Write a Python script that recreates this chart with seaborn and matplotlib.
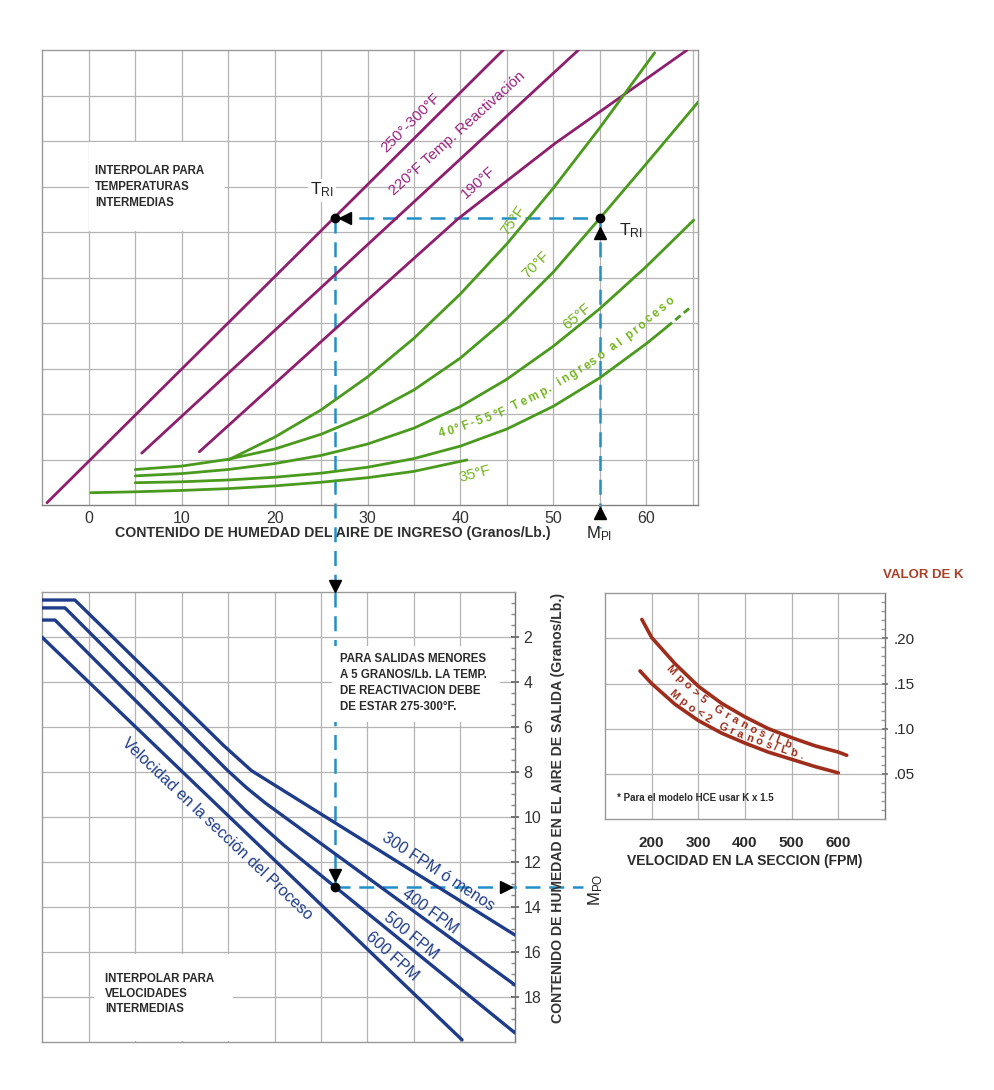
import matplotlib
matplotlib.use("Agg")
import numpy as np
import matplotlib.pyplot as plt
from matplotlib import font_manager
from matplotlib.patches import Rectangle
from matplotlib.textpath import TextToPath
import seaborn as sns

# ---------------- DATA ----------------
# Upper chart: x = inlet moisture (gr/lb), y = chart position (0-10)
reac_250_300_x = [-4.5, 44.6]
reac_250_300_y = [0.05, 10.0]
reac_220_x = [5.7, 52.7]
reac_220_y = [1.14, 10.0]
reac_190_x = [11.9, 26.25, 39.8, 50.2, 64.4]
reac_190_y = [1.17, 3.82, 6.3, 7.95, 10.0]

proc_75_x = [15, 20, 25, 30, 35, 40, 45, 50, 55, 60.9]
proc_75_y = [0.99, 1.49, 2.09, 2.815, 3.665, 4.64, 5.74, 6.965, 8.29, 9.94]
proc_70_x = [5, 10, 15, 20, 25, 30, 35, 40, 45, 50, 55, 60, 65.6]
proc_70_y = [0.78, 0.855, 1.005, 1.23, 1.555, 1.98, 2.53, 3.23, 4.1, 5.12, 6.3, 7.5, 8.86]
proc_65_x = [5, 10, 15, 20, 25, 30, 35, 40, 45, 50, 55, 60, 65.1]
proc_65_y = [0.64, 0.69, 0.78, 0.91, 1.09, 1.34, 1.69, 2.165, 2.765, 3.49, 4.315, 5.24, 6.26]
proc_40_55_x = [5, 10, 15, 20, 25, 30, 35, 40, 45, 50, 55, 60, 62.2]
proc_40_55_y = [0.49, 0.51, 0.55, 0.61, 0.7, 0.83, 1.02, 1.295, 1.67, 2.17, 2.795, 3.545, 3.91]
proc_40_55_ext_x = [62.2, 64.7]
proc_40_55_ext_y = [3.91, 4.335]
proc_35_x = [0.2, 5, 10, 15, 20, 25, 30, 35, 40.7]
proc_35_y = [0.27, 0.29, 0.32, 0.36, 0.42, 0.5, 0.6, 0.74, 0.99]
top_xticks = [0, 10, 20, 30, 40, 50, 60]

# Lower chart: outlet moisture (gr/lb) on the same x scale
vel_300_x = [-5.07, -1.5, 14.5, 17.5, 45.88]
vel_300_y = [0.37, 0.37, 6.83, 7.95, 15.26]
vel_400_x = [-5.07, -2.56, 14.9, 17.0, 19.0, 45.88]
vel_400_y = [0.72, 0.72, 7.93, 8.72, 9.39, 17.48]
vel_500_x = [-5.07, -3.64, 16.8, 18.85, 21.0, 45.88]
vel_500_y = [1.26, 1.26, 9.70, 10.48, 11.27, 19.61]
vel_600_x = [-5.07, 40.18]
vel_600_y = [2.01, 19.92]
bot_yticks = [2, 4, 6, 8, 10, 12, 14, 16, 18]

# Example path
m_pi = 55.0
t_ri = 6.3
x_tri = 26.5
m_po = 13.11

# K chart
k_fpm_hi = [179, 200, 250, 300, 350, 400, 450, 500, 550, 600, 618]
k_val_hi = [0.221, 0.201, 0.172, 0.147, 0.128, 0.113, 0.100, 0.090, 0.081, 0.074, 0.0705]
k_fpm_lo = [175, 200, 250, 300, 350, 400, 450, 500, 550, 600]
k_val_lo = [0.164, 0.150, 0.127, 0.109, 0.095, 0.084, 0.074, 0.066, 0.058, 0.051]
k_xticks = [200, 300, 400, 500, 600]
k_yticks = [0.05, 0.10, 0.15, 0.20]
k_ylabels = [".05", ".10", ".15", ".20"]

# ---------------- STYLE ----------------
sns.set_theme(style="white")
plt.rcParams["font.family"] = ["Liberation Sans", "DejaVu Sans"]
plt.rcParams["mathtext.default"] = "regular"

PURPLE = "#8e1f6e"
PURPLE_T = "#9a2480"
GREEN = "#4a9a1e"
GREEN_T = "#74b520"
BLUE = "#1f3c8a"
CYAN = "#2290c8"
RED = "#9e2d1b"
RED_T = "#a8402a"
GRID = "#b4b4b4"
DARK = "#333333"
SPINE = "#9a9a9a"

W, H = 994, 1090
def rect(l, t, r, b):
    return [l / W, 1 - b / H, (r - l) / W, (b - t) / H]

fig = plt.figure(figsize=(9.94, 10.9), dpi=100)
fig.patch.set_facecolor("white")
ax_top = fig.add_axes(rect(41.7, 50, 698.3, 505))
ax_bot = fig.add_axes(rect(41.7, 591.7, 515, 1041.7))
ax_k = fig.add_axes(rect(605, 593.3, 885, 818.9))

for ax in (ax_top, ax_bot, ax_k):
    ax.set_facecolor("white")
    ax.set_axisbelow(True)
    for s in ax.spines.values():
        s.set_color(SPINE)
        s.set_linewidth(1.0)

def draw(ax, x, y, color, lw, **kw):
    sns.lineplot(x=x, y=y, ax=ax, color=color, lw=lw, sort=False,
                 estimator=None, zorder=3, **kw)

_t2p = TextToPath()
def text_along(ax, xs, ys, text, x_start, base_off, fontsize, spacing, color,
               weight="normal"):
    """Place characters one by one following a curve (display-space)."""
    pts = ax.transData.transform(np.column_stack([xs, ys]))
    seg = np.diff(pts, axis=0)
    cum = np.concatenate([[0.0], np.cumsum(np.hypot(seg[:, 0], seg[:, 1]))])
    s = np.interp(ax.transData.transform((x_start, ys[0]))[0], pts[:, 0], cum)
    prop = font_manager.FontProperties(family=["Liberation Sans", "DejaVu Sans"],
                                       size=fontsize, weight=weight)
    inv = ax.transData.inverted()
    px_per_pt = fig.dpi / 72.0
    def at(v):
        return np.array([np.interp(v, cum, pts[:, 0]), np.interp(v, cum, pts[:, 1])])
    for ch in text:
        if ch == " ":
            w = 0.28 * fontsize * px_per_pt
        else:
            w = _t2p.get_text_width_height_descent(ch, prop, ismath=False)[0] * px_per_pt
        c = s + w / 2
        t = at(c + 4) - at(c - 4)
        t = t / np.hypot(*t)
        n = np.array([-t[1], t[0]])
        q = at(c) + n * base_off
        ang = np.degrees(np.arctan2(t[1], t[0]))
        if ch != " ":
            xd, yd = inv.transform(q)
            ax.text(xd, yd, ch, rotation=ang, rotation_mode="anchor", ha="center",
                    va="baseline", fontproperties=prop, color=color, zorder=4)
        s += w + spacing

# ================= TOP CHART =================
ax_top.set_xlim(-5.07, 65.6)
ax_top.set_ylim(0, 10)
ax_top.set_xticks(top_xticks)
ax_top.set_xticklabels([str(v) for v in top_xticks])
ax_top.set_xticks(np.arange(5, 66, 10), minor=True)
ax_top.set_yticks(np.arange(1, 10, 1))
ax_top.tick_params(axis="y", left=False, labelleft=False)
ax_top.tick_params(axis="x", which="both", direction="inout", length=5,
                   color="#777777", labelsize=11.5, labelcolor=DARK, pad=2)
ax_top.grid(True, which="both", color=GRID, lw=0.9)
ax_top.spines["bottom"].set_color("#808080")
ax_top.set_xlabel("")
ax_top.set_ylabel("")

for xs, ys in [(reac_250_300_x, reac_250_300_y), (reac_220_x, reac_220_y),
               (reac_190_x, reac_190_y)]:
    draw(ax_top, xs, ys, PURPLE, 2.0)
for xs, ys in [(proc_75_x, proc_75_y), (proc_70_x, proc_70_y),
               (proc_65_x, proc_65_y), (proc_40_55_x, proc_40_55_y),
               (proc_35_x, proc_35_y)]:
    draw(ax_top, xs, ys, GREEN, 2.0)
draw(ax_top, proc_40_55_ext_x, proc_40_55_ext_y, GREEN, 2.0, linestyle=(0, (2.5, 1.5)))

# white note box
ax_top.add_patch(Rectangle((0.05, 6.03), 14.6, 1.94, facecolor="white",
                           edgecolor="none", zorder=1.5))
ax_top.text(0.7, 7.47, "INTERPOLAR PARA\nTEMPERATURAS\nINTERMEDIAS", fontsize=8.3,
            fontweight="bold", color="#2a2a2a", ha="left", va="top",
            linespacing=1.45, zorder=4)

# curve labels
lab = dict(ha="center", va="center", zorder=4, rotation_mode="anchor")
ax_top.text(34.7, 8.4, "250°-300°F", color=PURPLE_T, fontsize=11, rotation=45, **lab)
ax_top.text(39.7, 8.17, "220°F Temp. Reactivación", color=PURPLE_T, fontsize=11, rotation=42, **lab)
ax_top.text(41.9, 7.08, "190°F", color=PURPLE_T, fontsize=11, rotation=42, **lab)
ax_top.text(45.7, 6.26, "75°F", color=GREEN_T, fontsize=11, rotation=55, **lab)
ax_top.text(48.1, 5.27, "70°F", color=GREEN_T, fontsize=11, rotation=45, **lab)
ax_top.text(52.6, 4.14, "65°F", color=GREEN_T, fontsize=11, rotation=40, **lab)
ax_top.text(41.6, 0.68, "35°F", color=GREEN_T, fontsize=11, rotation=15, **lab)
text_along(ax_top, proc_40_55_x + proc_40_55_ext_x[1:], proc_40_55_y + proc_40_55_ext_y[1:],
           "40°F-55°F Temp. ingreso al proceso", 38.2, 14, 8.5, 2.4, GREEN_T,
           weight="bold")

# example path (top)
dash = dict(color=CYAN, lw=1.8, linestyle=(0, (6, 3.5)), zorder=2)
ax_top.plot([x_tri, m_pi], [t_ri, t_ri], **dash)
ax_top.plot([m_pi, m_pi], [t_ri, -0.5], clip_on=False, **dash)
y_join = ax_top.transData.inverted().transform(
    ax_bot.transAxes.transform((0, 1)))[1]
ax_top.plot([x_tri, x_tri], [t_ri, y_join], clip_on=False, **dash)
ax_top.plot([x_tri, m_pi], [t_ri, t_ri], "o", color="black", ms=6, zorder=5)
ax_top.plot([x_tri + 1.1], [t_ri], marker="<", color="black", ms=8, zorder=5)
ax_top.plot([m_pi], [t_ri - 0.33], marker="^", color="black", ms=8, zorder=5)
ax_top.plot([m_pi], [-0.17], marker="^", color="black", ms=9, zorder=5, clip_on=False)

ax_top.text(25.1, 6.92, "T$_{RI}$", fontsize=12.5, color="#222222", ha="center",
            va="center", zorder=4,
            bbox=dict(facecolor="white", edgecolor="none", pad=1.5))
ax_top.text(58.3, 6.02, "T$_{RI}$", fontsize=12.5, color="#222222", ha="center",
            va="center", zorder=4)
ax_top.text(54.9, -0.62, "M$_{PI}$", fontsize=12, color="#222222", ha="center",
            va="center", clip_on=False)
ax_top.text(0.444, -0.062, "CONTENIDO DE HUMEDAD DEL AIRE DE INGRESO (Granos/Lb.)",
            transform=ax_top.transAxes, fontsize=10.2, fontweight="bold",
            color="#2e2e2e", ha="center", va="center", zorder=1)

# ================= BOTTOM CHART =================
ax_bot.set_xlim(-5.07, 45.88)
ax_bot.set_ylim(20, 0)
ax_bot.set_xticks(np.arange(0, 45, 5))
ax_bot.tick_params(axis="x", bottom=False, labelbottom=False)
ax_bot.yaxis.tick_right()
ax_bot.set_yticks(bot_yticks)
ax_bot.set_yticklabels([str(v) for v in bot_yticks])
ax_bot.set_yticks(np.arange(0.5, 20, 0.5), minor=True)
ax_bot.tick_params(axis="y", which="major", direction="inout", length=6,
                   color="#666666", labelsize=11.5, labelcolor=DARK, pad=3)
ax_bot.tick_params(axis="y", which="minor", direction="in", length=3, color="#888888")
ax_bot.grid(True, which="major", color=GRID, lw=0.9)
ax_bot.spines["right"].set_color("#777777")
ax_bot.set_xlabel("")
ax_bot.set_ylabel("")

for xs, ys in [(vel_300_x, vel_300_y), (vel_400_x, vel_400_y),
               (vel_500_x, vel_500_y), (vel_600_x, vel_600_y)]:
    draw(ax_bot, xs, ys, BLUE, 2.4)

ax_bot.add_patch(Rectangle((26.2, 2.4), 18.1, 3.4, facecolor="white",
                           edgecolor="none", zorder=2.5))
ax_bot.add_patch(Rectangle((0.6, 16.1), 14.9, 3.88, facecolor="white",
                           edgecolor="none", zorder=2.5))
ax_bot.text(27.05, 2.72, "PARA SALIDAS MENORES\nA 5 GRANOS/Lb. LA TEMP.\n"
            "DE REACTIVACION DEBE\nDE ESTAR 275-300°F.", fontsize=8.3,
            fontweight="bold", color="#2a2a2a", ha="left", va="top",
            linespacing=1.45, zorder=4)
ax_bot.text(1.76, 16.95, "INTERPOLAR PARA\nVELOCIDADES\nINTERMEDIAS", fontsize=8.3,
            fontweight="bold", color="#2a2a2a", ha="left", va="top",
            linespacing=1.35, zorder=4)

ax_bot.text(37.6, 12.44, "300 FPM ó menos", color=BLUE, fontsize=11.5, rotation=-33, **lab)
ax_bot.text(36.7, 14.2, "400 FPM", color=BLUE, fontsize=11.5, rotation=-36, **lab)
ax_bot.text(34.65, 15.3, "500 FPM", color=BLUE, fontsize=11.5, rotation=-39, **lab)
ax_bot.text(32.7, 16.2, "600 FPM", color=BLUE, fontsize=11.5, rotation=-42, **lab)
ax_bot.text(13.77, 10.55, "Velocidad en la sección del Proceso", color=BLUE,
            fontsize=11.5, rotation=-43.5, **lab)

ax_bot.plot([x_tri, x_tri], [0, m_po], **dash)
ax_bot.plot([x_tri, 53.2], [m_po, m_po], clip_on=False, **dash)
ax_bot.plot([x_tri], [m_po], "o", color="black", ms=6, zorder=5)
ax_bot.plot([x_tri], [m_po - 0.5], marker="v", color="black", ms=8, zorder=5)
ax_bot.plot([x_tri], [-0.25], marker="v", color="black", ms=8, zorder=5, clip_on=False)
ax_bot.plot([44.9], [m_po], marker=">", color="black", ms=8, zorder=5)

ax_bot.text(54.6, 13.26, "M$_{PO}$", fontsize=12, color="#222222", rotation=90,
            ha="center", va="center", clip_on=False)
ax_bot.text(1.091, 0.52, "CONTENIDO DE HUMEDAD EN EL AIRE DE SALIDA (Granos/Lb.)",
            transform=ax_bot.transAxes, rotation=90, fontsize=10.1, fontweight="bold",
            color="#333333", ha="center", va="center")

# ================= K CHART =================
ax_k.set_xlim(100, 700)
ax_k.set_ylim(0, 0.25)
ax_k.set_xticks(k_xticks)
ax_k.set_xticklabels([str(v) for v in k_xticks], fontweight="bold")
ax_k.tick_params(axis="x", bottom=False, labelsize=11, labelcolor="#2a2a2a", pad=6)
ax_k.yaxis.tick_right()
ax_k.set_yticks(k_yticks)
ax_k.set_yticklabels(k_ylabels)
ax_k.set_yticks(np.arange(0.01, 0.25, 0.01), minor=True)
ax_k.tick_params(axis="y", which="major", direction="inout", length=5,
                 color="#777777", labelsize=11, labelcolor="#2a2a2a", pad=4)
ax_k.tick_params(axis="y", which="minor", direction="in", length=3, color="#999999")
ax_k.grid(True, which="major", color=GRID, lw=0.9)
ax_k.spines["right"].set_color("#777777")
ax_k.set_xlabel("VELOCIDAD EN LA SECCION (FPM)", fontsize=10, fontweight="bold",
                color="#2a2a2a", labelpad=3)
ax_k.set_ylabel("")

draw(ax_k, k_fpm_hi, k_val_hi, RED, 2.6)
draw(ax_k, k_fpm_lo, k_val_lo, RED, 2.6)
text_along(ax_k, k_fpm_hi, k_val_hi, "Mpo>5 Granos/Lb.", 246, -10.5, 8, 3.6, RED,
           weight="bold")
text_along(ax_k, k_fpm_lo, k_val_lo, "Mpo<2 Granos/Lb.", 232, 3.2, 8, 3.6, RED,
           weight="bold")
ax_k.text(126, 0.023, "* Para el modelo HCE usar K x 1.5", color="#2a2a2a",
          fontsize=7, fontweight="bold", ha="left", va="center")
fig.text(923 / W, 1 - 575 / H, "VALOR DE K", color=RED_T, fontsize=9.5,
         fontweight="bold", ha="center", va="center")

fig.savefig("out.png", dpi=100, facecolor="white")
